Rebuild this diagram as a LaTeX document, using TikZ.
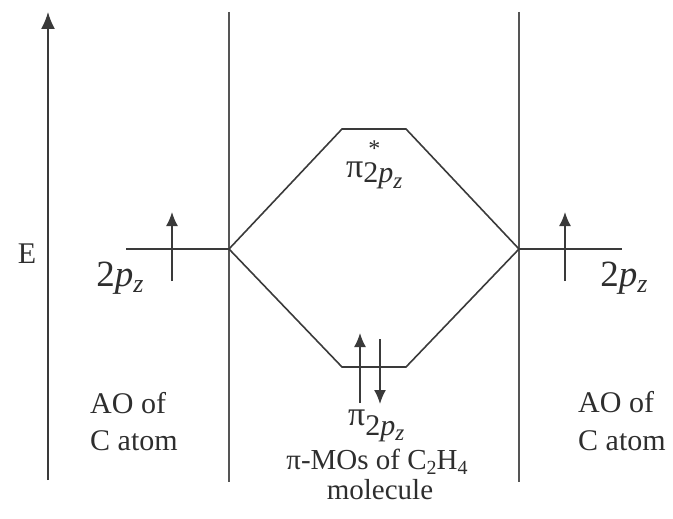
\documentclass[tikz,border=0pt]{standalone}
\usepackage{fontspec}
\setmainfont{Liberation Serif}
\usetikzlibrary{arrows.meta}
\definecolor{ink}{HTML}{3A3A3A}
\definecolor{sepc}{HTML}{555555}
\definecolor{txt}{HTML}{2E2E2E}
\newcommand{\orb}{2\textit{p}\raisebox{-6pt}{\fontsize{26}{26}\selectfont\textit{z}}}
\newcommand{\orbsmall}{2\textit{p}\raisebox{-5pt}{\fontsize{23}{23}\selectfont\textit{z}}}
\begin{document}
\begin{tikzpicture}[x=1pt,y=-1pt,
  level/.style={draw=ink,line width=1.6pt,line join=miter},
  divider/.style={draw=sepc,line width=1.6pt},
  spin/.style={draw=ink,line width=1.6pt,-{Latex[length=14pt,width=12pt]}},
  lab/.style={text=txt,inner sep=0pt},
]
\useasboundingbox (0,0) rectangle (673,519);
% energy axis
\coordinate (axB) at (48,480);
\coordinate (axT) at (48,12);
\draw[draw=ink,line width=1.6pt,-{Latex[length=17pt,width=14pt]}] (axB) -- (axT);
\node[lab,anchor=base] (E) at (27,263) {\fontsize{30}{32}\selectfont E};
% dividers
\coordinate (d1t) at (229,12); \coordinate (d1b) at (229,482);
\coordinate (d2t) at (519,12); \coordinate (d2b) at (519,482);
\draw[divider] (d1t) -- (d1b);
\draw[divider] (d2t) -- (d2b);
% AO levels
\coordinate (aoL1) at (126,249); \coordinate (aoL2) at (229,249);
\coordinate (aoR1) at (519,249); \coordinate (aoR2) at (622,249);
\draw[level] (aoL1) -- (aoL2);
\draw[level] (aoR1) -- (aoR2);
% MO levels
\coordinate (up1) at (342,129); \coordinate (up2) at (406,129);
\coordinate (lo1) at (342,367); \coordinate (lo2) at (406,367);
\draw[level] (aoL2) -- (up1) -- (up2) -- (aoR1);
\draw[level] (aoL2) -- (lo1) -- (lo2) -- (aoR1);
% electrons
\coordinate (eL0) at (172,281); \coordinate (eL1) at (172,212);
\coordinate (eR0) at (565,281); \coordinate (eR1) at (565,212);
\coordinate (eU0) at (360,403); \coordinate (eU1) at (360,333);
\coordinate (eD0) at (380,339); \coordinate (eD1) at (380,404);
\draw[spin] (eL0) -- (eL1);
\draw[spin] (eR0) -- (eR1);
\draw[spin] (eU0) -- (eU1);
\draw[spin] (eD0) -- (eD1);
% AO labels
\node[lab,anchor=base] (l2p) at (120,286) {\fontsize{37}{40}\selectfont\orb};
\node[lab,anchor=base] (r2p) at (624,286) {\fontsize{37}{40}\selectfont\orb};
% MO labels
\node[lab,anchor=base west] (pistar) at (346,178) {\fontsize{34}{36}\selectfont π\raisebox{-5pt}{\rlap{\hspace{5pt}\raisebox{26pt}{\fontsize{24}{24}\selectfont *}}\fontsize{30}{32}\selectfont\orbsmall}};
\node[lab,anchor=base west] (pi) at (348,425) {\fontsize{34}{36}\selectfont π\raisebox{-10pt}{\fontsize{30}{32}\selectfont\orbsmall}};
\node[lab,anchor=base] (mos) at (377,469) {\fontsize{29}{30}\selectfont π-MOs of C\raisebox{-5pt}{\fontsize{20}{20}\selectfont 2}H\raisebox{-5pt}{\fontsize{20}{20}\selectfont 4}};
\node[lab,anchor=base] (molec) at (380,499) {\fontsize{29}{30}\selectfont molecule};
% AO captions
\node[lab,anchor=base west] (aoL) at (90,413) {\fontsize{30}{30}\selectfont AO of};
\node[lab,anchor=base west] (caL) at (90,450) {\fontsize{30}{30}\selectfont C atom};
\node[lab,anchor=base west] (aoR) at (578,412) {\fontsize{30}{30}\selectfont AO of};
\node[lab,anchor=base west] (caR) at (578,450) {\fontsize{30}{30}\selectfont C atom};
\end{tikzpicture}
\end{document}
